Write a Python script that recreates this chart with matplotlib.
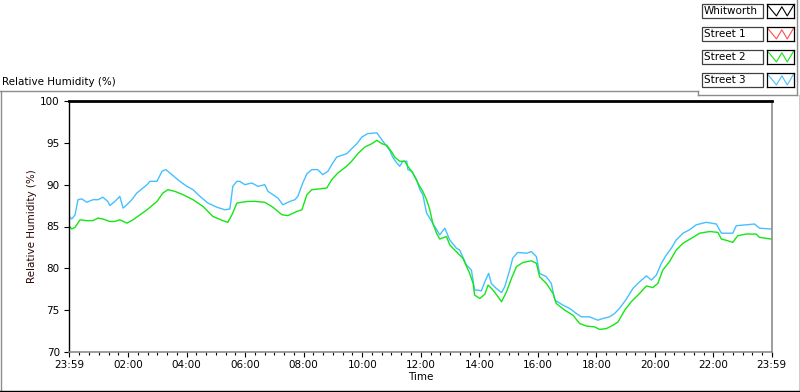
import numpy as np
import matplotlib.pyplot as plt
from matplotlib.lines import Line2D
from matplotlib.patches import Rectangle

# time in hours after midnight (the record starts at 23:59 the day before)
street3_time = [-0.02, 0.08, 0.19, 0.29, 0.42, 0.59, 0.80, 0.97, 1.14, 1.31, 1.38, 1.55, 1.72, 1.83,
                1.96, 2.13, 2.30, 2.65, 2.75, 2.99, 3.16, 3.29, 3.43, 3.77, 4.01, 4.22, 4.46, 4.73,
                5.04, 5.31, 5.48, 5.58, 5.72, 5.82, 5.99, 6.23, 6.44, 6.67, 6.78, 6.95, 7.12, 7.29,
                7.53, 7.70, 7.80, 7.97, 8.11, 8.28, 8.48, 8.65, 8.83, 8.96, 9.13, 9.30, 9.47, 9.64,
                9.82, 9.99, 10.19, 10.50, 10.60, 10.77, 10.94, 11.04, 11.18, 11.28, 11.39, 11.52,
                11.56, 11.69, 11.86, 11.97, 12.07, 12.20, 12.41, 12.65, 12.82, 12.99, 13.22, 13.33,
                13.43, 13.56, 13.73, 13.84, 13.95, 14.07, 14.19, 14.32, 14.41, 14.58, 14.76, 14.87,
                15.04, 15.14, 15.31, 15.61, 15.78, 15.95, 16.06, 16.29, 16.46, 16.58, 16.86, 17.09,
                17.32, 17.49, 17.77, 18.05, 18.22, 18.45, 18.62, 18.79, 19.02, 19.25, 19.48, 19.71,
                19.88, 20.05, 20.22, 20.39, 20.56, 20.73, 20.96, 21.18, 21.41, 21.75, 22.10, 22.27,
                22.66, 22.78, 23.12, 23.40, 23.57, 23.97]
street3_rh = [86.2, 85.9, 86.4, 88.2, 88.3, 87.9, 88.2, 88.2, 88.5, 88.0, 87.5, 88.0, 88.6, 87.2,
              87.6, 88.2, 89.0, 90.0, 90.4, 90.4, 91.6, 91.8, 91.4, 90.4, 89.8, 89.4, 88.6, 87.8,
              87.3, 87.0, 87.1, 89.8, 90.4, 90.4, 90.0, 90.2, 89.8, 90.0, 89.2, 88.8, 88.4, 87.6,
              88.0, 88.2, 88.6, 90.2, 91.3, 91.8, 91.8, 91.2, 91.6, 92.4, 93.3, 93.5, 93.7, 94.3,
              94.9, 95.7, 96.1, 96.2, 95.7, 94.9, 94.1, 93.3, 92.6, 92.2, 92.8, 92.8,
              91.8, 91.6, 90.6, 89.4, 88.8, 86.6, 85.4, 84.0, 84.8, 83.4, 82.4, 82.2,
              81.4, 80.4, 79.8, 77.4, 77.4, 77.3, 78.4, 79.4, 78.2, 77.6, 77.1, 77.8,
              79.8, 81.2, 81.9, 81.8, 82.0, 81.4, 79.4, 79.0, 78.2, 76.2, 75.6, 75.2,
              74.6, 74.2, 74.2, 73.8, 74.0, 74.2, 74.6, 75.2, 76.3, 77.6, 78.4, 79.1,
              78.6, 79.2, 80.6, 81.6, 82.4, 83.4, 84.2, 84.6, 85.2, 85.5, 85.3, 84.2,
              84.2, 85.1, 85.2, 85.3, 84.8, 84.7]

street2_time = [-0.02, 0.08, 0.19, 0.36, 0.59, 0.80, 0.97, 1.14, 1.38, 1.55, 1.72, 1.96, 2.17, 2.41,
                2.65, 2.99, 3.19, 3.36, 3.60, 3.88, 4.22, 4.56, 4.90, 5.24, 5.41, 5.55, 5.72, 5.89,
                6.09, 6.33, 6.67, 6.95, 7.26, 7.46, 7.77, 7.94, 8.11, 8.28, 8.55, 8.79, 8.96, 9.17,
                9.47, 9.64, 9.85, 10.09, 10.33, 10.50, 10.67, 10.84, 11.01, 11.11, 11.28, 11.45,
                11.56, 11.73, 11.90, 12.07, 12.20, 12.31, 12.41, 12.54, 12.65, 12.88, 12.99, 13.27,
                13.44, 13.67, 13.79, 13.84, 14.02, 14.19, 14.30, 14.47, 14.64, 14.76, 14.93, 15.10,
                15.27, 15.49, 15.78, 15.95, 16.06, 16.29, 16.52, 16.63, 16.92, 17.20, 17.43, 17.66,
                17.94, 18.11, 18.34, 18.57, 18.74, 18.97, 19.19, 19.45, 19.71, 19.93, 20.10, 20.27,
                20.50, 20.73, 20.96, 21.30, 21.53, 21.87, 22.15, 22.27, 22.49, 22.66, 22.83, 23.12,
                23.46, 23.57, 23.97]
street2_rh = [85.1, 84.7, 84.9, 85.8, 85.7, 85.7, 86.0, 85.9, 85.6, 85.6, 85.8, 85.4, 85.8, 86.4,
              87.0, 88.0, 89.0, 89.4, 89.2, 88.8, 88.2, 87.4, 86.2, 85.7, 85.5, 86.4, 87.8, 87.9,
              88.0, 88.0, 87.9, 87.3, 86.4, 86.3, 86.8, 87.0, 88.8, 89.4, 89.5, 89.6, 90.6, 91.4,
              92.2, 92.8, 93.7, 94.5, 94.9, 95.3, 94.9, 94.7, 93.9, 93.3, 92.8, 92.8,
              92.2, 91.4, 90.2, 89.2, 88.2, 87.0, 85.4, 84.2, 83.5, 83.8, 82.8, 81.8,
              81.2, 79.4, 78.2, 76.8, 76.4, 76.9, 78.0, 77.4, 76.6, 76.0, 77.2, 78.8,
              80.2, 80.7, 80.9, 80.6, 79.0, 78.2, 77.0, 75.8, 75.0, 74.4, 73.4, 73.1,
              73.0, 72.7, 72.8, 73.2, 73.6, 75.0, 76.0, 76.9, 77.9, 77.7, 78.2, 79.8,
              80.8, 82.2, 83.0, 83.7, 84.2, 84.4, 84.3, 83.5, 83.3, 83.1, 83.9, 84.1,
              84.1, 83.7, 83.5]

legend_names = ['Whitworth', 'Street 1', 'Street 2', 'Street 3']
legend_colors = ['black', '#ff4c4c', '#14e614', '#45c0ff']

x_ticks = [-1 / 60, 2, 4, 6, 8, 10, 12, 14, 16, 18, 20, 22, 24 - 1 / 60]
x_ticklabels = ['23:59', '02:00', '04:00', '06:00', '08:00', '10:00', '12:00', '14:00',
                '16:00', '18:00', '20:00', '22:00', '23:59']
y_ticks = [70, 75, 80, 85, 90, 95, 100]

W, H = 800, 392
FS = 7.5


def fx(px):
    return px / W


def fy(py):
    return 1 - py / H


fig = plt.figure(figsize=(8, 3.92), dpi=100)

ax = fig.add_axes([fx(69), fy(352), fx(772) - fx(69), fy(101) - fy(352)])
ax.plot(street3_time, street3_rh, color=legend_colors[3], lw=1.0)
ax.plot(street2_time, street2_rh, color=legend_colors[2], lw=1.0)

ax.set_xlim(x_ticks[0], x_ticks[-1])
ax.set_ylim(70, 100)
ax.set_xticks(x_ticks)
ax.set_xticklabels(x_ticklabels)
ax.set_xticks(np.arange(1 / 3, 24, 1 / 3), minor=True)
ax.set_yticks(y_ticks)
ax.tick_params(axis='both', which='major', labelsize=FS, length=3.6, width=0.8, color='black')
ax.tick_params(axis='x', which='major', pad=2.5)
ax.tick_params(axis='y', which='major', pad=3)
ax.tick_params(axis='x', which='minor', length=2.2, width=0.8, color='black')

ax.spines['top'].set_linewidth(2.0)
ax.spines['top'].set_color('black')
ax.spines['left'].set_linewidth(1.0)
ax.spines['left'].set_color('black')
ax.spines['bottom'].set_color('#8c8c8c')
ax.spines['bottom'].set_linewidth(1.2)
ax.spines['right'].set_color('#8c8c8c')
ax.spines['right'].set_linewidth(1.2)

ax.set_ylabel('Relative Humidity (%)', fontsize=FS, color='#2a0808', labelpad=2)
ax.set_xlabel('Time', fontsize=FS, labelpad=1)

# panel title and frame
fig.text(fx(2), fy(82), 'Relative Humidity (%)', fontsize=FS, ha='left', va='center')
frame = dict(transform=fig.transFigure, lw=1.0)
fig.add_artist(Line2D([fx(0), fx(698)], [fy(91), fy(91)], color='#8c8c8c', **frame))
fig.add_artist(Line2D([fx(0.5), fx(0.5)], [fy(91), fy(392)], color='#8c8c8c', **frame))
fig.add_artist(Line2D([fx(0), fx(800)], [fy(391), fy(391)], color='black', **frame))
fig.add_artist(Line2D([fx(799.5), fx(799.5)], [fy(95), fy(392)], color='black', **frame))
fig.add_artist(Line2D([fx(698), fx(698)], [fy(91), fy(95)], color='#8c8c8c', **frame))
fig.add_artist(Line2D([fx(698), fx(797)], [fy(95), fy(95)], color='#8c8c8c', **frame))
fig.add_artist(Line2D([fx(797), fx(797)], [fy(0), fy(95)], color='#8c8c8c', **frame))

# plot legend
for i, (name, col) in enumerate(zip(legend_names, legend_colors)):
    top = 4 + i * 23
    fig.add_artist(Rectangle((fx(702), fy(top + 14)), fx(763) - fx(702), fy(top) - fy(top + 14),
                             transform=fig.transFigure, fill=False, ec='#404040', lw=0.9))
    fig.text(fx(704), fy(top + 7), name, fontsize=FS, ha='left', va='center')
    iax = fig.add_axes([fx(767), fy(top + 14), fx(794) - fx(767), fy(top) - fy(top + 14)])
    iax.plot([0.05, 0.35, 0.55, 0.75, 0.98], [0.85, 0.15, 0.8, 0.15, 0.9], color=col, lw=0.8)
    iax.set_xlim(0, 1)
    iax.set_ylim(0, 1)
    iax.set_xticks([])
    iax.set_yticks([])
    for s in iax.spines.values():
        s.set_color('black')
        s.set_linewidth(0.9)

fig.savefig('out.png', dpi=100)
